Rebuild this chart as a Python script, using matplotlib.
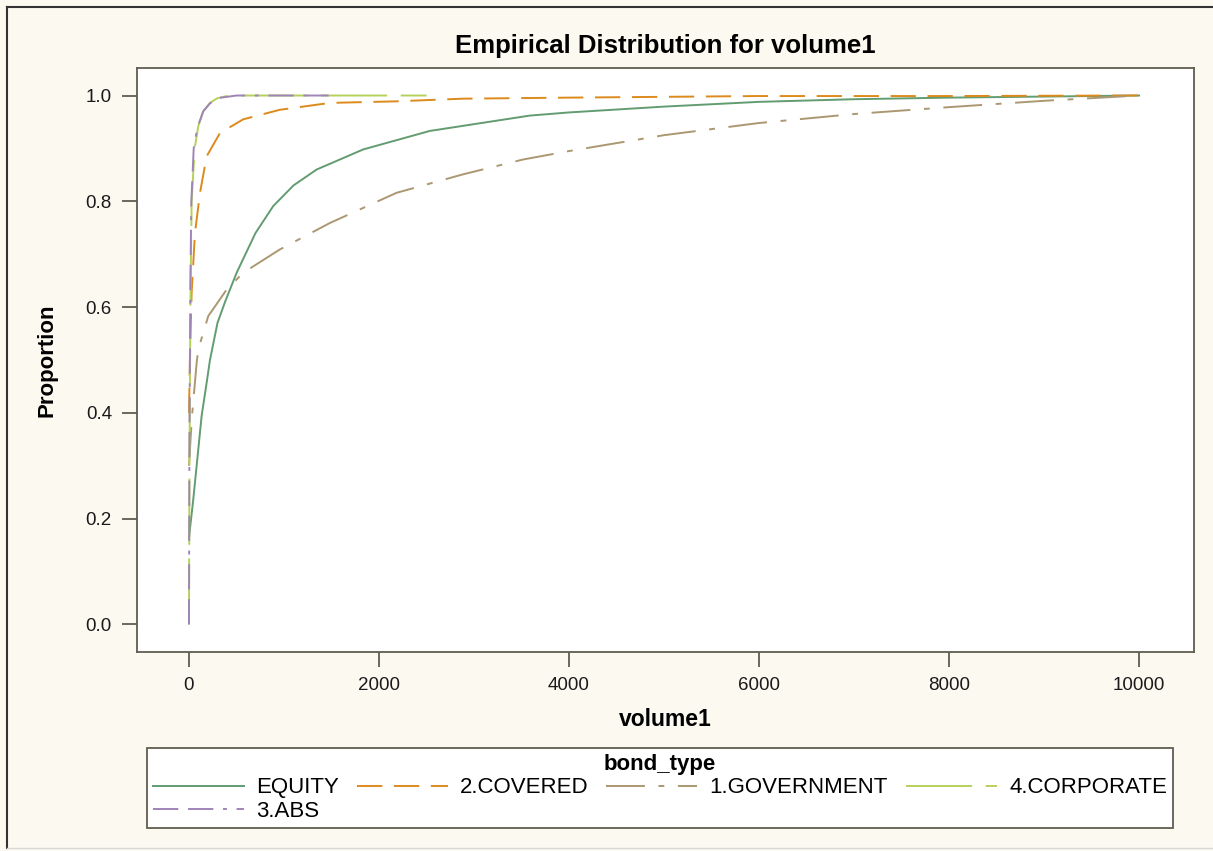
import matplotlib
matplotlib.use("Agg")
import matplotlib.pyplot as plt
from matplotlib.lines import Line2D

plt.rcParams['font.family'] = ['Liberation Sans', 'DejaVu Sans']

# empirical CDF points (volume1, proportion)
equity_x = [0, 45, 98, 133, 186, 221, 300, 380, 502, 700, 887, 1100, 1343, 1833,
            2534, 3586, 4000, 5000, 6000, 7000, 8000, 9000, 10000]
equity_y = [0.164, 0.236, 0.331, 0.394, 0.457, 0.50, 0.57, 0.61, 0.665, 0.74, 0.791,
            0.83, 0.86, 0.898, 0.933, 0.962, 0.968, 0.979, 0.988, 0.993, 0.996, 0.998, 1.0]

covered_x = [0, 10, 28, 63, 116, 186, 326, 571, 957, 1483, 2184, 2880, 4000, 6000,
             8000, 10000]
covered_y = [0.40, 0.50, 0.627, 0.74, 0.816, 0.885, 0.929, 0.955, 0.973, 0.986,
             0.989, 0.994, 0.996, 0.999, 0.999, 1.0]

govt_x = [0, 30, 81, 98, 203, 396, 571, 957, 1483, 2184, 2885, 3516, 4000, 5000,
          6000, 7000, 8000, 9000, 10000]
govt_y = [0.30, 0.39, 0.495, 0.52, 0.583, 0.633, 0.665, 0.709, 0.759, 0.816, 0.851,
          0.879, 0.895, 0.925, 0.948, 0.965, 0.978, 0.99, 1.0]

corp_x = [0, 5, 15, 28, 60, 98, 150, 221, 300, 400, 600, 2500]
corp_y = [0.0, 0.30, 0.60, 0.80, 0.90, 0.942, 0.97, 0.986, 0.995, 0.999, 1.0, 1.0]

abs_x = [0, 5, 15, 25, 50, 90, 150, 220, 300, 500, 1500]
abs_y = [0.0, 0.35, 0.65, 0.80, 0.90, 0.94, 0.97, 0.985, 0.995, 1.0, 1.0]

bg = '#fcf9f1'
frame = '#5e5d50'

fig = plt.figure(figsize=(12.13, 8.51), dpi=100, facecolor=bg)
ax = fig.add_axes([137 / 1213, 1 - 652 / 851, (1194 - 137) / 1213, (652 - 68) / 851])
ax.set_facecolor('white')

lw = 1.4
l_eq, = ax.plot(equity_x, equity_y, color='#629c70', lw=lw, label='EQUITY')
l_cov, = ax.plot(covered_x, covered_y, color='#dd8a1c', lw=lw, ls=(0, (13, 6)),
                 label='2.COVERED')
l_gov, = ax.plot(govt_x, govt_y, color='#ab9872', lw=lw, ls=(0, (20, 7, 3, 7)),
                 label='1.GOVERNMENT')
l_corp, = ax.plot(corp_x, corp_y, color='#b6d15a', lw=lw, ls=(0, (34, 7)),
                  label='4.CORPORATE')
l_abs, = ax.plot(abs_x, abs_y, color='#9f85b7', lw=lw, ls=(0, (13, 5, 13, 5, 2, 5)),
                 label='3.ABS')

ax.set_xlim(-547, 10578)
ax.set_ylim(-0.052, 1.052)
ax.set_xticks([0, 2000, 4000, 6000, 8000, 10000])
ax.set_yticks([0.0, 0.2, 0.4, 0.6, 0.8, 1.0])
ax.set_yticklabels(['0.0', '0.2', '0.4', '0.6', '0.8', '1.0'])
ax.tick_params(length=11, width=1.3, color=frame, labelsize=13.5, pad=7,
               labelcolor='#1a1a1a')
for s in ax.spines.values():
    s.set_color(frame)
    s.set_linewidth(1.3)

ax.set_title('Empirical Distribution for volume1', fontsize=18.5, fontweight='bold',
             pad=11)
ax.set_xlabel('volume1', fontsize=16.5, fontweight='bold', labelpad=10)
ax.set_ylabel('Proportion', fontsize=16, fontweight='bold', labelpad=20)

# matplotlib fills legend columns first, so order for a row-wise look
leg = fig.legend([l_eq, l_abs, l_cov, l_gov, l_corp],
                 ['EQUITY', '3.ABS', '2.COVERED', '1.GOVERNMENT', '4.CORPORATE'],
                 ncol=4, loc='upper left', bbox_to_anchor=(147 / 1213, 1 - 748 / 851),
                 fontsize=16, title='bond_type',
                 title_fontproperties={'weight': 'bold', 'size': 16},
                 handlelength=4.1, handletextpad=0.55, columnspacing=0.8,
                 labelspacing=0.12, borderpad=0.25, borderaxespad=0,
                 fancybox=False, edgecolor=frame, framealpha=1, facecolor='white')
leg.get_frame().set_linewidth(1.3)
leg._legend_box.sep = 2

# outer frame of the graph area
fig.add_artist(Line2D([7 / 1213, 7 / 1213], [1 - 848 / 851, 1 - 7 / 851],
                      transform=fig.transFigure, color='#333333', lw=1.5))
fig.add_artist(Line2D([7 / 1213, 1], [1 - 7 / 851, 1 - 7 / 851],
                      transform=fig.transFigure, color='#333333', lw=1.5))
fig.add_artist(Line2D([7 / 1213, 1], [1 - 848 / 851, 1 - 848 / 851],
                      transform=fig.transFigure, color='#d8d8d8', lw=1))

fig.savefig('out.png', dpi=100, facecolor=bg)
